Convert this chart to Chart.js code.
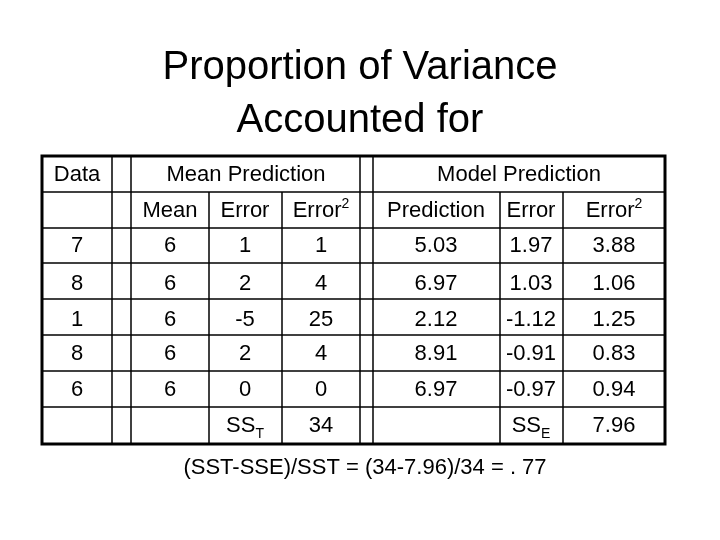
<!DOCTYPE html>
<html><head><meta charset="utf-8">
<script src="https://cdn.jsdelivr.net/npm/chart.js@4"></script>
<style>html,body{margin:0;padding:0;background:#fff}#c{display:block}</style>
</head><body>
<div style="width:720px;height:540px"><canvas id="c"></canvas></div>
<script>
const titleLines = ["Proportion of Variance", "Accounted for"];
const dataCol = [7, 8, 1, 8, 6];
const meanPred = [6, 6, 6, 6, 6];
const meanErr = [1, 2, -5, 2, 0];
const meanErr2 = [1, 4, 25, 4, 0];
const modelPred = ["5.03", "6.97", "2.12", "8.91", "6.97"];
const modelErr = ["1.97", "1.03", "-1.12", "-0.91", "-0.97"];
const modelErr2 = ["3.88", "1.06", "1.25", "0.83", "0.94"];
const sst = 34, sse = "7.96";
const footer = "(SST-SSE)/SST = (34-7.96)/34 = . 77";
// layout (page coordinates mapped through the chart's scales)
const colX = [42, 112, 131, 209, 282, 360, 373, 500, 563, 665];
const rowY = [156, 192, 228, 263, 299, 335, 371, 407, 444];
const FONT = 'Liberation Sans, Arial, sans-serif';

const tablePlugin = {
  id: 'table',
  afterDraw(chart) {
    const ctx = chart.ctx, xs = chart.scales.x, ys = chart.scales.y;
    const X = v => xs.getPixelForValue(v), Y = v => ys.getPixelForValue(v);
    ctx.save();
    ctx.fillStyle = '#000'; ctx.strokeStyle = '#000';
    ctx.textAlign = 'center'; ctx.textBaseline = 'middle';
    ctx.font = '40px ' + FONT;
    ctx.fillText(titleLines[0], X(360), Y(68));
    ctx.fillText(titleLines[1], X(360), Y(121));
    const line = (x1, y1, x2, y2, w) => { ctx.lineWidth = w; ctx.beginPath(); ctx.moveTo(X(x1), Y(y1)); ctx.lineTo(X(x2), Y(y2)); ctx.stroke(); };
    // horizontal lines
    for (let i = 1; i < rowY.length - 1; i++) line(colX[0], rowY[i], colX[9], rowY[i], 1.5);
    // vertical lines
    [1, 2, 5, 6].forEach(i => line(colX[i], rowY[0], colX[i], rowY[8], 1.5));
    [3, 4, 7, 8].forEach(i => line(colX[i], rowY[1], colX[i], rowY[8], 1.5));
    ctx.lineWidth = 3;
    ctx.strokeRect(X(colX[0]), Y(rowY[0]), X(colX[9]) - X(colX[0]), Y(rowY[8]) - Y(rowY[0]));
    ctx.font = '22px ' + FONT;
    const cx = [77, 170, 245, 321, 436, 531, 614];
    const t = (s, c, y) => ctx.fillText(String(s), X(c), Y(y));
    const sup = (base, s, c, y, sub) => {
      ctx.font = '22px ' + FONT;
      const w = ctx.measureText(base).width; ctx.font = '14px ' + FONT;
      const w2 = ctx.measureText(s).width; const x0 = X(c) - (w + w2) / 2;
      ctx.textAlign = 'left'; ctx.font = '22px ' + FONT; ctx.fillText(base, x0, Y(y));
      ctx.font = '14px ' + FONT; ctx.fillText(s, x0 + w, Y(y) + (sub ? 8 : -7));
      ctx.textAlign = 'center'; ctx.font = '22px ' + FONT;
    };
    t('Data', cx[0], 175);
    t('Mean Prediction', 246, 175);
    t('Model Prediction', 519, 175);
    t('Mean', cx[1], 211); t('Error', cx[2], 211); sup('Error', '2', cx[3], 211);
    t('Prediction', cx[4], 211); t('Error', cx[5], 211); sup('Error', '2', cx[6], 211);
    const ry = [246, 284, 320, 354, 390];
    for (let i = 0; i < 5; i++) {
      t(dataCol[i], cx[0], ry[i]); t(meanPred[i], cx[1], ry[i]); t(meanErr[i], cx[2], ry[i]); t(meanErr2[i], cx[3], ry[i]);
      t(modelPred[i], cx[4], ry[i]); t(modelErr[i], cx[5], ry[i]); t(modelErr2[i], cx[6], ry[i]);
    }
    sup('SS', 'T', cx[2], 426, true); t(sst, cx[3], 426);
    sup('SS', 'E', cx[5], 426, true); t(sse, cx[6], 426);
    t(footer, 365, 468);
    ctx.restore();
  }
};

new Chart(document.getElementById('c'), {
  type: 'scatter',
  data: { datasets: [{ data: [], pointRadius: 0 }] },
  options: {
    responsive: true, maintainAspectRatio: false, animation: false,
    layout: { padding: 0 },
    plugins: { legend: { display: false }, tooltip: { enabled: false } },
    scales: {
      x: { type: 'linear', min: 0, max: 720, display: false },
      y: { type: 'linear', min: 0, max: 540, reverse: true, display: false }
    }
  },
  plugins: [tablePlugin]
});
</script>
</body></html>
